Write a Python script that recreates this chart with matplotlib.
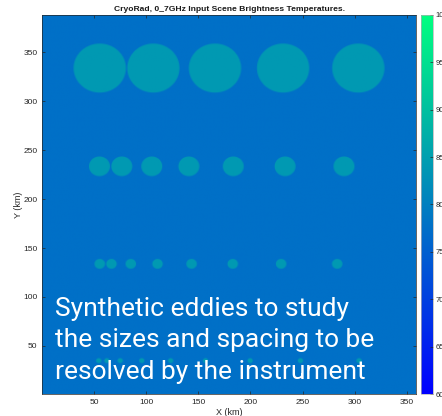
import numpy as np
import matplotlib
matplotlib.use("Agg")
import matplotlib.pyplot as plt

# scene size (km) and brightness temperatures (K)
nx, ny = 358, 388
tb_background = 77.6
tb_eddy = 84.0

# eddy rows: centre x positions (km), row y (km), radius (km)
row1_x = [55.8, 107.1, 166.1, 231.3, 303.3]
row1_y = 333.3
row1_r = 25.0

row2_x = [55.5, 76.9, 105.6, 141.1, 183.6, 233.2, 289.6]
row2_y = 233.0
row2_r = 10.0

row3_x = [55.8, 67.0, 85.5, 111.1, 143.7, 183.1, 229.4, 283.1]
row3_y = 133.4
row3_r = 5.0

row4_x = [54.8, 62.6, 75.4, 96.0, 123.6, 157.0, 199.7, 247.9, 304.0]
row4_y = 34.6
row4_r = 2.5

rows = [(row1_x, row1_y, row1_r), (row2_x, row2_y, row2_r),
        (row3_x, row3_y, row3_r), (row4_x, row4_y, row4_r)]

note_lines = ["Synthetic eddies to study",
              "the sizes and spacing to be",
              "resolved by the instrument"]
note_y = [81.0, 48.4, 15.8]

# build the scene on a 1 km grid (with soft edges)
xx, yy = np.meshgrid(np.arange(nx) + 1.0, np.arange(ny) + 1.0)
cover = np.zeros_like(xx)
for xs, yc, r in rows:
    for xc in xs:
        d = np.hypot(xx - xc, yy - yc)
        cover = np.maximum(cover, np.clip(r - d + 0.5, 0, 1))
scene = tb_background + (tb_eddy - tb_background) * cover

plt.rcParams['font.family'] = ['Liberation Sans', 'DejaVu Sans']
fig = plt.figure(figsize=(4.42, 4.16), dpi=100)
ax = fig.add_axes([0.0957, 0.0522, 0.8448, 0.9125])
cax = fig.add_axes([0.9525, 0.0522, 0.0278, 0.9125])

im = ax.imshow(scene, origin='lower', cmap='winter', vmin=60, vmax=100,
               extent=[0.5, nx + 0.5, 0.5, ny + 0.5], aspect='auto',
               interpolation='bilinear')
ax.set_xticks([50, 100, 150, 200, 250, 300, 350])
ax.set_yticks([50, 100, 150, 200, 250, 300, 350])
ax.tick_params(labelsize=6, length=2.5, width=0.5, direction='in',
               top=True, right=True, colors='#262626')
ax.set_xlabel("X (km)", fontsize=6.5, labelpad=1, color='#262626')
ax.set_ylabel("Y (km)", fontsize=6.5, labelpad=0, color='#262626')
ax.set_title("CryoRad, 0_7GHz Input Scene Brightness Temperatures.",
             fontsize=6.1, fontweight='bold', pad=2.5, color='#1a1a1a')
for s in ax.spines.values():
    s.set_linewidth(0.5)
    s.set_color('#262626')

cb = fig.colorbar(im, cax=cax)
cb.set_ticks([60, 65, 70, 75, 80, 85, 90, 95, 100])
cb.ax.tick_params(labelsize=5.5, length=2, width=0.5, direction='in',
                  pad=1.5, colors='#262626')
cb.outline.set_linewidth(0.5)
cb.outline.set_edgecolor('#b0b0b0')

for line, y in zip(note_lines, note_y):
    ax.text(13, y, line, family='Roboto', fontsize=19, color='white',
            va='baseline', ha='left')

fig.savefig("out.png", dpi=100)
